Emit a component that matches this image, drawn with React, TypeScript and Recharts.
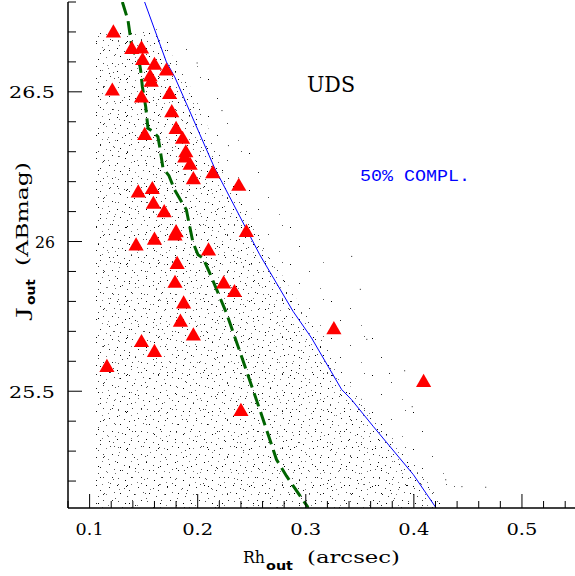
import React from "react";
import { ComposedChart, XAxis, YAxis, ZAxis, Scatter, Line, Area } from "recharts";

// red triangles (Rh_out, J_out)
const triX = [0.122, 0.139, 0.148, 0.149, 0.160, 0.171, 0.156, 0.157, 0.121, 0.148, 0.174, 0.176, 0.151, 0.180, 0.186, 0.189, 0.188, 0.193, 0.196, 0.214, 0.238, 0.145, 0.158, 0.159, 0.169, 0.180, 0.179, 0.160, 0.143, 0.210, 0.245, 0.181, 0.179, 0.224, 0.234, 0.187, 0.184, 0.196, 0.148, 0.160, 0.116, 0.326, 0.409, 0.240];
const triY = [26.696, 26.641, 26.643, 26.604, 26.588, 26.569, 26.549, 26.532, 26.502, 26.479, 26.491, 26.430, 26.354, 26.374, 26.341, 26.296, 26.279, 26.254, 26.206, 26.226, 26.184, 26.162, 26.173, 26.124, 26.096, 26.029, 26.018, 26.004, 25.985, 25.968, 26.030, 25.923, 25.860, 25.858, 25.829, 25.791, 25.730, 25.684, 25.662, 25.629, 25.579, 25.705, 25.529, 25.432];

// green dashed median line
const greenX = [0.1303, 0.1355, 0.1386, 0.1417, 0.1456, 0.1472, 0.1488, 0.1519, 0.1540, 0.1581, 0.1632, 0.1648, 0.1679, 0.1734, 0.1787, 0.1895, 0.1956, 0.2003, 0.2049, 0.2111, 0.2266, 0.2405, 0.2574, 0.2729, 0.2821, 0.3021];
const greenY = [26.800, 26.739, 26.661, 26.628, 26.608, 26.572, 26.517, 26.450, 26.378, 26.369, 26.350, 26.317, 26.245, 26.220, 26.172, 26.106, 25.997, 25.956, 25.945, 25.895, 25.761, 25.617, 25.439, 25.272, 25.217, 25.112];

// blue 50% completeness line
const blueX = [0.1509, 0.1710, 0.1787, 0.2157, 0.2574, 0.2882, 0.3053, 0.3331, 0.3423, 0.3623, 0.3994, 0.4204];
const blueY = [26.800, 26.600, 26.550, 26.245, 25.956, 25.767, 25.678, 25.506, 25.472, 25.383, 25.222, 25.111];

// outline of the dense simulated-source cloud
const coreX = [0.106, 0.160, 0.181, 0.189, 0.226, 0.267, 0.298, 0.315, 0.343, 0.352, 0.372, 0.409, 0.430];
const coreTop = [26.70, 26.70, 26.60, 26.55, 26.245, 25.956, 25.767, 25.678, 25.506, 25.472, 25.383, 25.222, 25.11];

// outline of the sparse outskirts of the cloud
const haloX = [0.106, 0.165, 0.202, 0.230, 0.259, 0.294, 0.332, 0.361, 0.396, 0.424, 0.444];
const haloTop = [26.71, 26.712, 26.622, 26.439, 26.239, 26.039, 25.856, 25.706, 25.522, 25.339, 25.11];

// isolated simulated sources outside the cloud
const strayX = [0.444, 0.466, 0.391, 0.377, 0.398, 0.429, 0.356, 0.350, 0.342, 0.199, 0.222, 0.228];
const strayY = [25.183, 25.181, 25.570, 25.561, 25.450, 25.206, 25.675, 25.842, 25.952, 26.598, 26.439, 26.322];

const xTicks = [0.08, 0.10, 0.12, 0.14, 0.16, 0.18, 0.20, 0.22, 0.24, 0.26, 0.28, 0.30, 0.32, 0.34, 0.36, 0.38, 0.40, 0.42, 0.44, 0.46, 0.48, 0.50, 0.52, 0.54];
const yTicks = [25.2, 25.3, 25.4, 25.5, 25.6, 25.7, 25.8, 25.9, 26.0, 26.1, 26.2, 26.3, 26.4, 26.5, 26.6, 26.7, 26.8];

const BOTTOM = 25.11;
const triangles = triX.map((x, i) => ({ x, y: triY[i] }));
const green = greenX.map((x, i) => ({ x, y: greenY[i] }));
const blue = blueX.map((x, i) => ({ x, y: blueY[i] }));
const core = coreX.map((x, i) => ({ x, r: [BOTTOM, coreTop[i]] }));
const halo = haloX.map((x, i) => ({ x, r: [BOTTOM, haloTop[i]] }));
const stray = strayX.map((x, i) => ({ x, y: strayY[i] }));

// texture used to fill the cloud outlines
const dotsA = [[1, 2], [8, 5], [15, 1], [22, 4], [27, 9], [4, 10], [11, 13], [19, 11], [25, 17], [2, 18], [9, 20], [16, 17], [21, 22], [13, 7]];
const dotsB = [[3, 4], [17, 2], [26, 8], [10, 13], [22, 17], [5, 22], [29, 26], [14, 28], [7, 33], [20, 35]];
const dotsH = [[3, 5], [22, 12], [33, 29], [12, 24], [36, 3]];
const greys = ["#000", "#444", "#777", "#222", "#555"];

const serif = "'DejaVu Serif', serif";
const isMajorX = (v: number) => Math.abs(v * 10 - Math.round(v * 10)) < 1e-6;
const isMajorY = (v: number) => Math.abs(v * 2 - Math.round(v * 2)) < 1e-6;

const BottomTick = (p: any) => {
  const v = p.payload.value;
  const major = isMajorX(v);
  const label = v.toFixed(1);
  return (
    <g>
      <line x1={p.x} x2={p.x} y1={p.y} y2={p.y - (major ? 14 : 7)} stroke="#000" strokeWidth={1} />
      {major && (
        <text x={p.x} y={p.y + 27} textAnchor="middle" fontFamily={serif} fontSize={16.5} textLength={label === "0.1" ? 28 : 31} lengthAdjust="spacingAndGlyphs">
          {label}
        </text>
      )}
    </g>
  );
};

const TopTick = (p: any) => {
  const major = isMajorX(p.payload.value);
  return <line x1={p.x} x2={p.x} y1={p.y} y2={p.y + (major ? 14 : 7)} stroke="#000" strokeWidth={1} />;
};

const LeftTick = (p: any) => {
  const v = p.payload.value;
  const major = isMajorY(v);
  const label = Math.abs(v - 26) < 1e-6 ? "26" : v.toFixed(1);
  return (
    <g>
      <line x1={p.x} x2={p.x + (major ? 14 : 8)} y1={p.y} y2={p.y} stroke="#000" strokeWidth={1} />
      {major && (
        <text x={p.x - 13} y={p.y + 6.5} textAnchor="end" fontFamily={serif} fontSize={16.5} textLength={label.length > 2 ? 46 : 20} lengthAdjust="spacingAndGlyphs">
          {label}
        </text>
      )}
    </g>
  );
};

const RightTick = (p: any) => {
  const major = isMajorY(p.payload.value);
  return <line x1={p.x} x2={p.x - (major ? 15 : 8)} y1={p.y} y2={p.y} stroke="#000" strokeWidth={1} />;
};

const Dot = (p: any) => <rect x={p.cx} y={p.cy} width={1} height={1} fill="#222" />;

const Pattern = ({ id, w, h, pts }: { id: string; w: number; h: number; pts: number[][] }) => (
  <pattern id={id} width={w} height={h} patternUnits="userSpaceOnUse">
    {pts.map(([x, y], i) => (
      <rect key={i} x={x} y={y} width={1} height={1} fill={greys[i % greys.length]} />
    ))}
  </pattern>
);

export default function App() {
  return (
    <div style={{ position: "absolute", left: 0, top: 0, width: 575, height: 576, overflow: "hidden", background: "#fff" }}>
      <ComposedChart width={580} height={576} margin={{ top: 2, right: 4, left: 38, bottom: 38 }}>
        <defs>
          <Pattern id="dotsA" w={29} h={23} pts={dotsA} />
          <Pattern id="dotsB" w={31} h={37} pts={dotsB} />
          <Pattern id="dotsH" w={41} h={37} pts={dotsH} />
        </defs>
        <XAxis xAxisId={0} type="number" dataKey="x" domain={[0.08, 0.55]} allowDataOverflow ticks={xTicks} interval={0} height={30} tickSize={0} tickMargin={0} tickLine={false} axisLine={{ stroke: "#000", strokeWidth: 1.5 }} tick={BottomTick} />
        <XAxis xAxisId="top" orientation="top" type="number" dataKey="x" domain={[0.08, 0.55]} allowDataOverflow ticks={xTicks} interval={0} height={0} tickSize={0} tickMargin={0} tickLine={false} axisLine={{ stroke: "#000", strokeWidth: 1.5 }} tick={TopTick} />
        <YAxis yAxisId={0} type="number" domain={[BOTTOM, 26.8]} allowDataOverflow ticks={yTicks} interval={0} width={30} tickSize={0} tickMargin={0} tickLine={false} axisLine={{ stroke: "#000", strokeWidth: 1.5 }} tick={LeftTick} />
        <YAxis yAxisId="right" orientation="right" type="number" domain={[BOTTOM, 26.8]} allowDataOverflow ticks={yTicks} interval={0} width={0} tickSize={0} tickMargin={0} tickLine={false} axisLine={{ stroke: "#000", strokeWidth: 1.5 }} tick={RightTick} />
        <ZAxis range={[100, 100]} />
        <Area data={halo} dataKey="r" type="linear" stroke="none" fill="url(#dotsH)" fillOpacity={1} isAnimationActive={false} />
        <Area data={core} dataKey="r" type="linear" stroke="none" fill="url(#dotsA)" fillOpacity={1} isAnimationActive={false} />
        <Area data={core} dataKey="r" type="linear" stroke="none" fill="url(#dotsB)" fillOpacity={1} isAnimationActive={false} />
        <Scatter data={stray} dataKey="y" shape={Dot} isAnimationActive={false} />
        <Line data={blue} dataKey="y" type="linear" stroke="#0000ff" strokeWidth={1} dot={false} isAnimationActive={false} />
        <Line data={green} dataKey="y" type="linear" stroke="#006400" strokeWidth={3} strokeDasharray="14 6" dot={false} isAnimationActive={false} />
        <Scatter data={triangles} dataKey="y" shape="triangle" fill="#ff0000" isAnimationActive={false} />
      </ComposedChart>
      <svg width={575} height={576} style={{ position: "absolute", left: 0, top: 0, pointerEvents: "none" }}>
        <text x={307} y={92} fontFamily={serif} fontSize={22} textLength={48} lengthAdjust="spacingAndGlyphs">UDS</text>
        <text x={360} y={181} fontFamily="'Liberation Mono', monospace" fontSize={17} fill="#0000ff" textLength={110} lengthAdjust="spacingAndGlyphs">50% COMPL.</text>
        <text x={243} y={563} fontFamily={serif} fontSize={16.5} textLength={22} lengthAdjust="spacingAndGlyphs">Rh</text>
        <text x={266} y={570} fontFamily="'DejaVu Sans', sans-serif" fontWeight="bold" fontSize={13} textLength={27} lengthAdjust="spacingAndGlyphs">out</text>
        <text x={307} y={563} fontFamily={serif} fontSize={16.5} textLength={93} lengthAdjust="spacingAndGlyphs">(arcsec)</text>
        <g transform="translate(28,318) rotate(-90)">
          <text x={0} y={0} fontFamily={serif} fontSize={16.5} textLength={11} lengthAdjust="spacingAndGlyphs">J</text>
          <text x={13} y={7} fontFamily="'DejaVu Sans', sans-serif" fontWeight="bold" fontSize={13} textLength={26} lengthAdjust="spacingAndGlyphs">out</text>
          <text x={52} y={0} fontFamily={serif} fontSize={16.5} textLength={104} lengthAdjust="spacingAndGlyphs">(ABmag)</text>
        </g>
      </svg>
    </div>
  );
}
